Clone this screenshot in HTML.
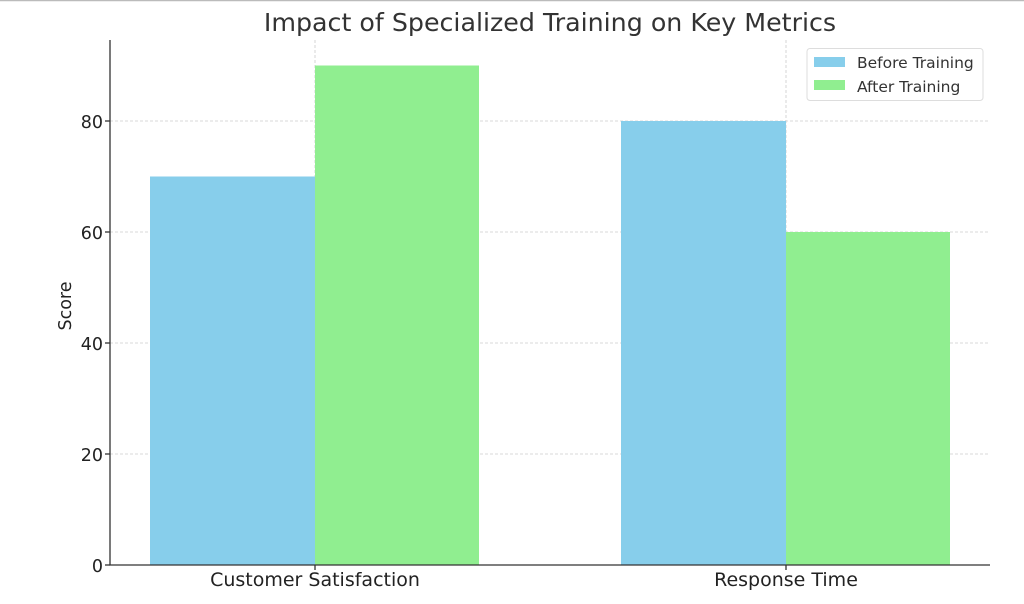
<!DOCTYPE html>
<html><head><style>body{margin:0;background:#fff}svg{display:block;font-family:"DejaVu Sans","Liberation Sans",sans-serif}</style></head>
<body>
<svg width="1024" height="604" viewBox="0 0 1024 604">
<rect width="1024" height="604" fill="#fff"/>
<line x1="0" y1="0.5" x2="1024" y2="0.5" stroke="#bbb" stroke-width="1.5"/>
<text x="550" y="31" font-size="25.3" fill="#333" text-anchor="middle">Impact of Specialized Training on Key Metrics</text>
<g stroke="#ccc" stroke-width="0.8" stroke-dasharray="3,2">
<line x1="110" y1="454" x2="990" y2="454"/><line x1="110" y1="343" x2="990" y2="343"/>
<line x1="110" y1="232" x2="990" y2="232"/><line x1="110" y1="121" x2="990" y2="121"/>
<line x1="315" y1="40" x2="315" y2="565"/><line x1="786" y1="40" x2="786" y2="565"/>
</g>
<rect x="150" y="176.5" width="165" height="388.5" fill="#87ceeb"/>
<rect x="315" y="65.5" width="164" height="499.5" fill="#90ee90"/>
<rect x="621" y="121" width="165" height="444" fill="#87ceeb"/>
<rect x="786" y="232" width="164" height="333" fill="#90ee90"/>
<g stroke="#333" stroke-width="1.3"><line x1="110" y1="40" x2="110" y2="565.5"/><line x1="109.5" y1="565" x2="990" y2="565"/>
<line x1="105" y1="565" x2="110" y2="565"/><line x1="105" y1="454" x2="110" y2="454"/><line x1="105" y1="343" x2="110" y2="343"/><line x1="105" y1="232" x2="110" y2="232"/><line x1="105" y1="121" x2="110" y2="121"/>
<line x1="315" y1="565" x2="315" y2="570"/><line x1="786" y1="565" x2="786" y2="570"/></g>
<g font-size="17.5" fill="#222" text-anchor="end">
<text x="103" y="572">0</text><text x="103" y="461">20</text><text x="103" y="350">40</text><text x="103" y="239">60</text><text x="103" y="128">80</text></g>
<g font-size="19" fill="#222" text-anchor="middle"><text x="315" y="586">Customer Satisfaction</text><text x="786" y="586">Response Time</text></g>
<text transform="translate(71,306) rotate(-90)" font-size="17.5" fill="#222" text-anchor="middle">Score</text>
<rect x="807" y="48.5" width="176" height="52" rx="3" fill="#fff" stroke="#ddd"/>
<rect x="814" y="57" width="31" height="10" fill="#87ceeb"/>
<rect x="814" y="80" width="31" height="10" fill="#90ee90"/>
<g font-size="15.5" fill="#333"><text x="857" y="68">Before Training</text><text x="857" y="92">After Training</text></g>
</svg>
</body></html>
